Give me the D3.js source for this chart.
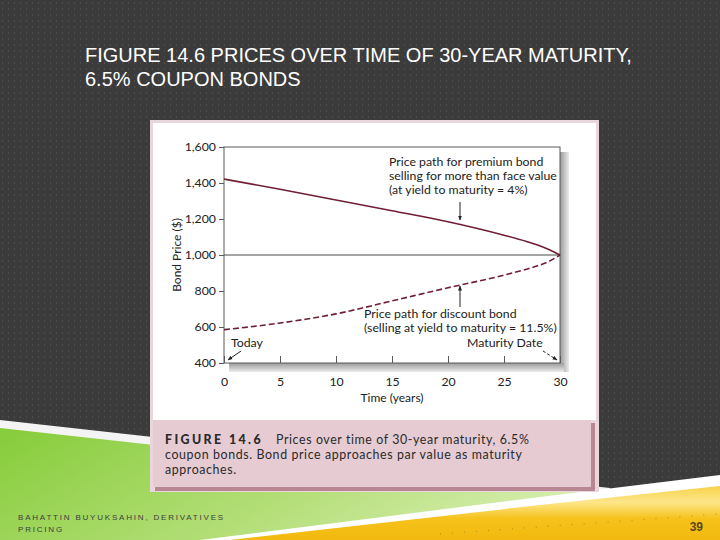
<!DOCTYPE html>
<html><head><meta charset="utf-8">
<script src="https://cdn.jsdelivr.net/npm/d3@7"></script>
<style>html,body{margin:0;padding:0;background:#3b3b3b;}svg{display:block;}</style>
</head><body>
<script>
// ---- data ----
const years = [0, 5, 10, 15, 20, 25, 27, 28, 29, 30];
const premiumPrice = [1422, 1365, 1306, 1246, 1185, 1110, 1075, 1055, 1030, 1000];
const discountPrice = [585, 622, 673, 745, 818, 888, 921, 940, 964, 1000];
const yTicks = [400, 600, 800, 1000, 1200, 1400, 1600];
const xTicks = [0, 5, 10, 15, 20, 25, 30];
const titleLines = ["FIGURE 14.6 PRICES OVER TIME OF 30-YEAR MATURITY,", "6.5% COUPON BONDS"];
const premiumNote = ["Price path for premium bond", "selling for more than face value", "(at yield to maturity = 4%)"];
const discountNote = ["Price path for discount bond", "(selling at yield to maturity = 11.5%)"];
const captionLines = ["coupon bonds. Bond price approaches par value as maturity", "approaches."];
const footerLines = ["BAHATTIN BUYUKSAHIN, DERIVATIVES", "PRICING"];

const W = 720, H = 540;
const svg = d3.select("body").append("svg").attr("width", W).attr("height", H);
const defs = svg.append("defs");

// background dot pattern
const pat = defs.append("pattern").attr("id", "dots").attr("width", 6).attr("height", 6).attr("patternUnits", "userSpaceOnUse");
pat.append("rect").attr("width", 6).attr("height", 6).attr("fill", "#3b3b3b");
pat.append("rect").attr("x", 2).attr("y", 2).attr("width", 1).attr("height", 2).attr("fill", "#4d4d4d");
svg.append("rect").attr("width", W).attr("height", H).attr("fill", "url(#dots)");

// gradients
const gg = defs.append("linearGradient").attr("id", "green").attr("x1", 0).attr("y1", 0).attr("x2", 1).attr("y2", 0.3);
gg.append("stop").attr("offset", 0).attr("stop-color", "#86cc3a");
gg.append("stop").attr("offset", 0.6).attr("stop-color", "#b5df7a");
gg.append("stop").attr("offset", 1).attr("stop-color", "#d7eeb0");
const yg = defs.append("linearGradient").attr("id", "yellow").attr("x1", 0).attr("y1", 0).attr("x2", 0).attr("y2", 1);
yg.append("stop").attr("offset", 0).attr("stop-color", "#f7d24a");
yg.append("stop").attr("offset", 0.3).attr("stop-color", "#fde68a");
yg.append("stop").attr("offset", 0.6).attr("stop-color", "#f6c21c");
yg.append("stop").attr("offset", 1).attr("stop-color", "#f2b90f");

// swooshes
svg.append("path").attr("d", "M0,420 L610,488 L610,495 L0,430 Z").attr("fill", "#f4f4f4");
svg.append("path").attr("d", "M0,428 L600,494 L640,500 L380,540 L0,540 Z").attr("fill", "url(#green)");
svg.append("path").attr("d", "M720,475 L540,497 L200,540 L720,540 Z").attr("fill", "#ffffff");
svg.append("path").attr("d", "M720,486 L540,505 L230,540 L720,540 Z").attr("fill", "url(#yellow)");
// dotted line on yellow
svg.append("path").attr("d", "M440,534 L720,514").attr("stroke", "#b08a10").attr("stroke-width", 1).attr("stroke-dasharray", "1,11").attr("fill", "none");

// title
svg.append("g").selectAll("text").data(titleLines).join("text")
  .attr("x", 85).attr("y", (d, i) => 62 + i * 24)
  .attr("fill", "#ffffff").attr("font-family", "Liberation Sans, Arial, sans-serif").attr("font-size", 20)
  .text(d => d);

// panel
svg.append("rect").attr("x", 150).attr("y", 120).attr("width", 449).attr("height", 372).attr("fill", "#e9d6db");
svg.append("rect").attr("x", 153).attr("y", 123).attr("width", 443).attr("height", 297).attr("fill", "#ffffff");
// caption box with shadow
svg.append("rect").attr("x", 155).attr("y", 423).attr("width", 440).attr("height", 68).attr("fill", "#b98794");
svg.append("rect").attr("x", 153).attr("y", 420).attr("width", 438).attr("height", 67).attr("fill", "#e6cbd2");

const fontF = "Lato, 'Open Sans', sans-serif";
const cap = svg.append("g").attr("font-family", fontF).attr("fill", "#2a2a2a");
cap.append("text").attr("x", 165).attr("y", 444).attr("font-size", 12.4).attr("font-weight", 900).attr("letter-spacing", 2.4).text("FIGURE 14.6");
cap.append("text").attr("x", 276).attr("y", 444).attr("font-size", 12.4).attr("letter-spacing", 0.6).text("Prices over time of 30-year maturity, 6.5%");
cap.selectAll("text.cl").data(captionLines).join("text").attr("class", "cl")
  .attr("x", 165).attr("y", (d, i) => 459 + i * 15).attr("font-size", 12.4).attr("letter-spacing", 0.6).text(d => d);

// scales
const x = d3.scaleLinear().domain([0, 30]).range([224, 560]);
const y = d3.scaleLinear().domain([400, 1600]).range([363, 147]);

// frame shadow
const sh = defs.append("linearGradient").attr("id", "shR").attr("x1", 0).attr("x2", 1).attr("y1", 0).attr("y2", 0);
sh.append("stop").attr("offset", 0).attr("stop-color", "#9a9a9a");
sh.append("stop").attr("offset", 1).attr("stop-color", "#ececec");
const shB = defs.append("linearGradient").attr("id", "shB").attr("x1", 0).attr("x2", 0).attr("y1", 0).attr("y2", 1);
shB.append("stop").attr("offset", 0).attr("stop-color", "#9a9a9a");
shB.append("stop").attr("offset", 1).attr("stop-color", "#ececec");
svg.append("rect").attr("x", 560).attr("y", 152).attr("width", 9).attr("height", 220).attr("fill", "url(#shR)");
svg.append("rect").attr("x", 229).attr("y", 363).attr("width", 335).attr("height", 9).attr("fill", "url(#shB)");
svg.append("rect").attr("x", x(0)).attr("y", y(1600)).attr("width", x(30) - x(0)).attr("height", y(400) - y(1600))
  .attr("fill", "#ffffff").attr("stroke", "#5a5a5a").attr("stroke-width", 1);

// axes
const yAxis = d3.axisLeft(y).tickValues(yTicks).tickFormat(d3.format(",")).tickSize(5).tickPadding(3);
const gy = svg.append("g").attr("transform", `translate(${x(0)},0)`).call(yAxis);
gy.select(".domain").remove();
gy.selectAll("line").attr("stroke", "#5a5a5a");
gy.selectAll("text").attr("font-family", fontF).attr("font-size", 12.3).attr("fill", "#222");

const xAxis = d3.axisBottom(x).tickValues(xTicks).tickSizeInner(-7).tickSizeOuter(0).tickPadding(14);
const gx = svg.append("g").attr("transform", `translate(0,${y(400)})`).call(xAxis);
gx.select(".domain").remove();
gx.selectAll("line").attr("stroke", "#5a5a5a");
gx.selectAll("text").attr("font-family", fontF).attr("font-size", 12.3).attr("fill", "#222");

// 1000 reference line
svg.append("line").attr("x1", x(0)).attr("x2", x(30)).attr("y1", y(1000)).attr("y2", y(1000)).attr("stroke", "#4a4a4a").attr("stroke-width", 1);

// axis titles
svg.append("text").attr("x", 392).attr("y", 402).attr("text-anchor", "middle").attr("font-family", fontF).attr("font-size", 12).attr("fill", "#222").text("Time (years)");
svg.append("text").attr("transform", `translate(181,${y(1000)}) rotate(-90)`).attr("text-anchor", "middle").attr("font-family", fontF).attr("font-size", 12).attr("fill", "#222").text("Bond Price ($)");

// lines
const line = (vals) => d3.line().x((d, i) => x(years[i])).y(d => y(d)).curve(d3.curveMonotoneX)(vals);
svg.append("path").attr("d", line(premiumPrice)).attr("fill", "none").attr("stroke", "#6e1f33").attr("stroke-width", 1.6);
svg.append("path").attr("d", line(discountPrice)).attr("fill", "none").attr("stroke", "#6e1f33").attr("stroke-width", 1.6).attr("stroke-dasharray", "6,3");

// annotations
const ann = svg.append("g").attr("font-family", fontF).attr("font-size", 12.3).attr("fill", "#222");
ann.selectAll("text.p").data(premiumNote).join("text").attr("class", "p").attr("x", 389).attr("y", (d, i) => 166 + i * 14).text(d => d);
ann.selectAll("text.d").data(discountNote).join("text").attr("class", "d").attr("x", 364).attr("y", (d, i) => 318 + i * 13.5).text(d => d);
ann.append("text").attr("x", 231).attr("y", 347).text("Today");
ann.append("text").attr("x", 467).attr("y", 347).text("Maturity Date");

const mk = defs.append("marker").attr("id", "ah").attr("viewBox", "0 0 10 10").attr("refX", 9).attr("refY", 5)
  .attr("markerWidth", 5).attr("markerHeight", 5).attr("orient", "auto");
mk.append("path").attr("d", "M0,1 L10,5 L0,9 Z").attr("fill", "#222");
const arr = svg.append("g").attr("stroke", "#222").attr("stroke-width", 1).attr("fill", "none");
arr.append("line").attr("x1", 460).attr("y1", 202).attr("x2", 460).attr("y2", 220).attr("marker-end", "url(#ah)");
arr.append("line").attr("x1", 460).attr("y1", 307).attr("x2", 460).attr("y2", 286).attr("marker-end", "url(#ah)");
arr.append("line").attr("x1", 241).attr("y1", 351).attr("x2", 228).attr("y2", 360).attr("marker-end", "url(#ah)");
arr.append("line").attr("x1", 543).attr("y1", 351).attr("x2", 557).attr("y2", 360).attr("stroke-dasharray", "3,2").attr("marker-end", "url(#ah)");

// footer
svg.append("g").selectAll("text").data(footerLines).join("text")
  .attr("x", 18).attr("y", (d, i) => 520 + i * 12)
  .attr("font-family", "Liberation Sans, Arial, sans-serif").attr("font-size", 8).attr("letter-spacing", 1.8).attr("fill", "#3d3d3d")
  .text(d => d);
svg.append("text").attr("x", 703).attr("y", 531).attr("text-anchor", "end").attr("font-family", "Liberation Sans Narrow, Liberation Sans, sans-serif")
  .attr("font-weight", "bold").attr("font-size", 12).attr("fill", "#5a4a1e").text("39");
</script>
</body></html>
